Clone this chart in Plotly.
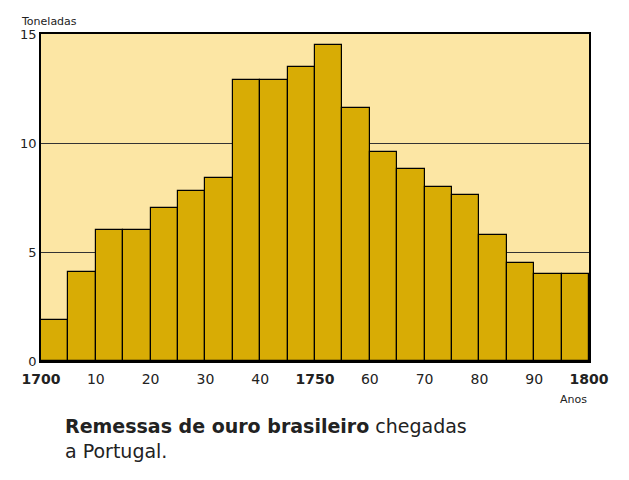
import plotly.graph_objects as go

# Gold shipments, 5-year periods starting 1700
anos = [1700, 1705, 1710, 1715, 1720, 1725, 1730, 1735, 1740, 1745,
        1750, 1755, 1760, 1765, 1770, 1775, 1780, 1785, 1790, 1795]
toneladas = [1.9, 4.1, 6.0, 6.0, 7.0, 7.8, 8.4, 12.9, 12.9, 13.5,
             14.5, 11.6, 9.6, 8.8, 8.0, 7.6, 5.8, 4.5, 4.0, 4.0]

tick_vals = [1700, 1710, 1720, 1730, 1740, 1750, 1760, 1770, 1780, 1790, 1800]
tick_text = ['<b>1700</b>', '10', '20', '30', '40', '<b>1750</b>', '60', '70', '80', '90', '<b>1800</b>']

fig = go.Figure()

fig.add_trace(
    go.Bar(
        x=[a + 2.5 for a in anos],
        y=toneladas,
        width=5,
        marker=dict(color='#D8AC05', line=dict(color='black', width=1.2)),
    )
)

fig.update_layout(
    width=629,
    height=480,
    margin=dict(l=33, r=48, t=26, b=127),
    paper_bgcolor='white',
    plot_bgcolor='#FCE6A4',
    showlegend=False,
    bargap=0,
    font=dict(family='DejaVu Sans', color='#222', size=13),
    xaxis=dict(
        range=[1700, 1800],
        tickvals=tick_vals,
        ticktext=tick_text,
        showgrid=False,
        showline=True, linecolor='black', linewidth=1.5, mirror=True,
        ticks='', tickfont=dict(size=14), ticklabelstandoff=4,
    ),
    yaxis=dict(
        range=[0, 15],
        tickvals=[0, 5, 10, 15],
        showgrid=True, gridcolor='#333', gridwidth=1.3,
        showline=True, linecolor='black', linewidth=1.5, mirror=True,
        ticks='', tickfont=dict(size=13), zeroline=False,
    ),
    annotations=[
        dict(text='Toneladas', x=0, y=1, xref='paper', yref='paper',
             xanchor='left', yanchor='bottom', xshift=-22, yshift=4,
             showarrow=False, font=dict(size=11)),
        dict(text='Anos', x=1, y=0, xref='paper', yref='paper',
             xanchor='right', yanchor='top', yshift=-30,
             showarrow=False, font=dict(size=11)),
        dict(text='<b>Remessas de ouro brasileiro</b> chegadas<br>a Portugal.',
             x=0.04, y=-0.16, xref='paper', yref='paper', showarrow=False,
             align='left', xanchor='left', yanchor='top',
             font=dict(size=19)),
    ],
)

fig.write_html("out.html")
